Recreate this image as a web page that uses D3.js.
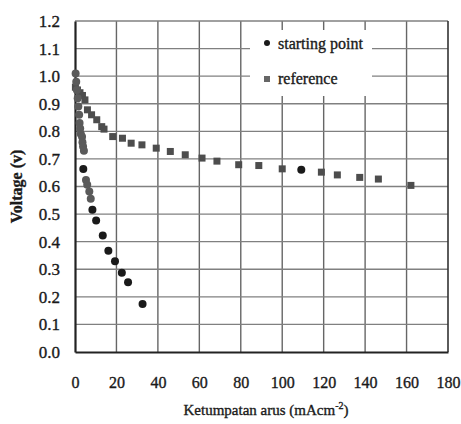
<!DOCTYPE html>
<html>
<head>
<meta charset="utf-8">
<script src="https://cdn.jsdelivr.net/npm/d3@7"></script>
<style>
  body { margin: 0; background: #fff; }
  svg text { font-family: "Liberation Serif", "Times New Roman", Times, serif !important; fill: #1a1a1a; stroke: #1a1a1a; stroke-width: 0.35px; }
</style>
</head>
<body>
<div id="chart"></div>
<script>
// data
var startX = [0.3, 0.6, 0.9, 1.3, 1.6, 2.0, 2.2, 2.5, 2.8, 3.4, 3.6, 3.9, 4.3, 4.0, 5.3, 5.9, 6.9, 7.6, 8.4, 10.2, 13.4, 16.1, 19.3, 22.6, 25.6, 32.6, 109.2];
var startY = [1.01, 0.98, 0.95, 0.92, 0.89, 0.86, 0.83, 0.81, 0.79, 0.78, 0.76, 0.745, 0.73, 0.663, 0.624, 0.606, 0.582, 0.556, 0.516, 0.477, 0.422, 0.367, 0.329, 0.287, 0.253, 0.174, 0.661];

var refX = [0.2, 1.2, 2.4, 3.6, 4.8, 6.0, 8.0, 10.5, 12.9, 14.0, 18.2, 22.9, 27.1, 32.3, 39.2, 46.0, 53.2, 61.3, 68.5, 79.0, 88.7, 100.0, 118.9, 126.6, 137.4, 146.4, 162.1];
var refY = [0.96, 0.95, 0.94, 0.93, 0.914, 0.878, 0.86, 0.842, 0.817, 0.808, 0.781, 0.775, 0.757, 0.751, 0.739, 0.727, 0.715, 0.703, 0.692, 0.679, 0.676, 0.664, 0.652, 0.642, 0.633, 0.627, 0.604];

var xTicks = [0, 20, 40, 60, 80, 100, 120, 140, 160, 180];
var yTicks = [0, 0.1, 0.2, 0.3, 0.4, 0.5, 0.6, 0.7, 0.8, 0.9, 1.0, 1.1, 1.2];

var svgWidth = 461;
var svgHeight = 424;
var margin = { top: 21, right: 13, bottom: 72, left: 75 };
var width = svgWidth - margin.left - margin.right;
var height = svgHeight - margin.top - margin.bottom;

var svg = d3.select("#chart")
  .append("svg")
  .attr("width", svgWidth)
  .attr("height", svgHeight);

var chartGroup = svg.append("g")
  .attr("transform", `translate(${margin.left}, ${margin.top})`);

var x = d3.scaleLinear().domain([0, 180]).range([0, width]);
var y = d3.scaleLinear().domain([0, 1.2]).range([height, 0]);

// grid
chartGroup.append("g")
  .selectAll("line")
  .data(xTicks.slice(1, -1))
  .enter()
  .append("line")
  .attr("x1", d => x(d)).attr("x2", d => x(d))
  .attr("y1", 0).attr("y2", height)
  .attr("stroke", "#666")
  .attr("stroke-width", 1.4);

chartGroup.append("g")
  .selectAll("line")
  .data(yTicks.slice(1))
  .enter()
  .append("line")
  .attr("x1", 0).attr("x2", width)
  .attr("y1", d => y(d)).attr("y2", d => y(d))
  .attr("stroke", "#808080")
  .attr("stroke-width", 1.4);

// frame
chartGroup.append("line")
  .attr("x1", width).attr("x2", width).attr("y1", 0).attr("y2", height)
  .attr("stroke", "#333").attr("stroke-width", 1.6);

// axes
var bottomAxis = d3.axisBottom(x).tickValues(xTicks).tickSize(0).tickPadding(25);
var leftAxis = d3.axisLeft(y).tickValues(yTicks).tickSize(0).tickPadding(15).tickFormat(d3.format(".1f"));

var xAxis = chartGroup.append("g")
  .attr("transform", `translate(0, ${height})`)
  .call(bottomAxis);
xAxis.attr("font-family", null);
xAxis.select(".domain").attr("stroke", "#222").attr("stroke-width", 2.2);
xAxis.selectAll("text").style("font-size", "16px");

var yAxis = chartGroup.append("g").call(leftAxis);
yAxis.attr("font-family", null);
yAxis.select(".domain").attr("stroke", "#222").attr("stroke-width", 2.2);
yAxis.selectAll("text").style("font-size", "17px");

// legend background
var legend = chartGroup.append("g");
legend.append("rect")
  .attr("x", 175).attr("y", 9)
  .attr("width", 122).attr("height", 66)
  .attr("fill", "#fff");

// reference series (squares)
chartGroup.append("g")
  .selectAll("rect")
  .data(refX.map((d, i) => [d, refY[i]]))
  .enter()
  .append("rect")
  .attr("x", d => x(d[0]) - 3.5)
  .attr("y", d => y(d[1]) - 3.5)
  .attr("width", 7)
  .attr("height", 7)
  .attr("fill", "#4d4d4d");

// starting point series (circles)
chartGroup.append("g")
  .selectAll("circle")
  .data(startX.map((d, i) => [d, startY[i]]))
  .enter()
  .append("circle")
  .attr("cx", d => x(d[0]))
  .attr("cy", d => y(d[1]))
  .attr("r", 4)
  .attr("fill", (d, i) => i < 13 || (i > 13 && i < 18) ? "#5a5a5a" : "#1a1a1a");

legend.append("circle")
  .attr("cx", 192).attr("cy", 22).attr("r", 3)
  .attr("fill", "#1a1a1a");
legend.append("text")
  .attr("x", 203).attr("y", 28)
  .style("font-size", "16px")
  .text("starting point");
legend.append("rect")
  .attr("x", 189).attr("y", 55).attr("width", 6).attr("height", 6)
  .attr("fill", "#666");
legend.append("text")
  .attr("x", 203).attr("y", 63)
  .style("font-size", "16px")
  .text("reference");

// axis titles
svg.append("text")
  .attr("x", 266).attr("y", 415)
  .attr("text-anchor", "middle")
  .style("font-size", "15px")
  .html("Ketumpatan arus (mAcm<tspan dy='-6' font-size='10px'>-2</tspan><tspan dy='6'>)</tspan>");

svg.append("text")
  .attr("transform", `translate(22, ${margin.top + height / 2}) rotate(-90)`)
  .attr("text-anchor", "middle")
  .style("font-size", "16px")
  .style("font-weight", "bold")
  .text("Voltage (v)");
</script>
</body>
</html>
